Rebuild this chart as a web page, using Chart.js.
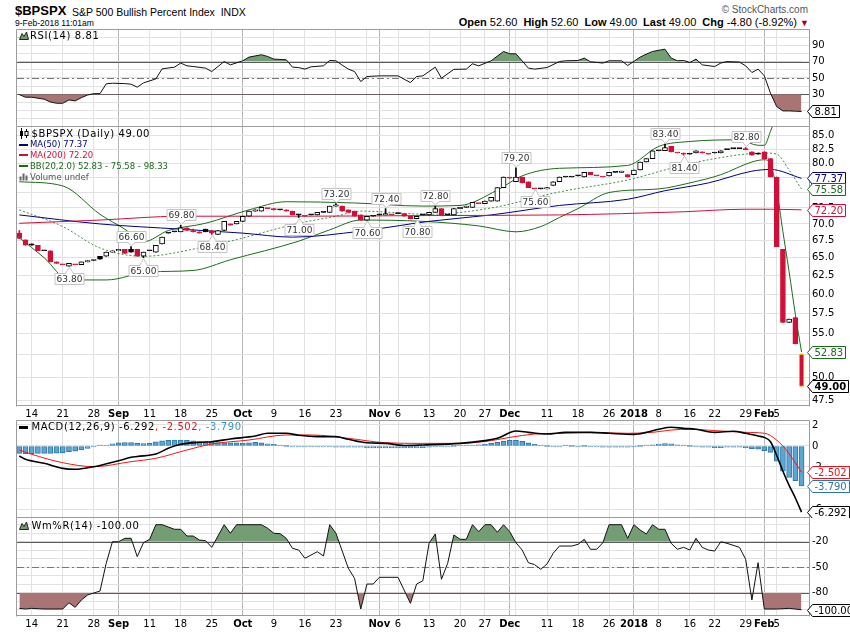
<!DOCTYPE html>
<html>
<head>
<meta charset="utf-8">
<title>$BPSPX S&amp;P 500 Bullish Percent Index</title>
<script src="https://cdn.jsdelivr.net/npm/chart.js@4.4.1/dist/chart.umd.min.js"></script>
<style>
  html, body { margin: 0; padding: 0; background: #fff; }
  body { position: relative; width: 850px; height: 633px; overflow: hidden; }
  canvas { position: absolute; left: 0; }
  .t { position: absolute; white-space: nowrap; line-height: 1; color: #000; z-index: 2; }
  .sans { font-family: "Liberation Sans", Arial, sans-serif; }
  .leg { font-family: "DejaVu Sans", sans-serif; font-size: 10px; letter-spacing: 0.6px; }
  .leg2 { font-family: "DejaVu Sans", sans-serif; font-size: 8.5px; }
  .ic { position: absolute; z-index: 2; }
  .gap { margin-left: 6px; }
</style>
</head>
<body>

<canvas id="rsi" width="850" height="97" style="top:29px"></canvas>
<canvas id="price" width="850" height="294" style="top:126px"></canvas>
<canvas id="macd" width="850" height="98" style="top:420px"></canvas>
<canvas id="wr" width="850" height="116" style="top:517px"></canvas>

<div class="t sans" style="left:15px;top:4px;font-size:13px;font-weight:bold">$BPSPX</div>
<div class="t sans" style="left:72px;top:6.5px;font-size:10.5px">S&amp;P 500 Bullish Percent Index&nbsp; INDX</div>
<div class="t sans" style="left:15px;top:19px;font-size:8.5px">9-Feb-2018 11:01am</div>
<div class="t sans" style="right:42px;top:4.5px;font-size:10px;color:#555">© StockCharts.com</div>
<div class="t sans" style="right:41px;top:16.5px;font-size:11px"><b>Open</b> 52.60<b class="gap">High</b> 52.60<b class="gap">Low</b> 49.00<b class="gap">Last</b> 49.00<b class="gap">Chg</b> -4.80 (-8.92%) <span style="color:#a00018;font-size:9px">▼</span></div>

<svg class="ic" style="left:19px;top:31px" width="10" height="9"><polygon points="0.5,8.5 3,2.5 5,5.5 7.5,1 9.5,8.5" fill="#6f9b6f" stroke="#222" stroke-width="1"/></svg>
<div class="t leg" style="left:30px;top:31px">RSI(14) 8.81</div>

<svg class="ic" style="left:19px;top:128px" width="11" height="11"><line x1="2.5" y1="0" x2="2.5" y2="11" stroke="#000"/><rect x="1" y="3" width="3" height="5" fill="#000"/><line x1="7.5" y1="1" x2="7.5" y2="10" stroke="#000"/><rect x="6" y="3.5" width="3" height="4" fill="#fff" stroke="#000" stroke-width="1"/></svg>
<div class="t leg" style="left:31.5px;top:128.5px">$BPSPX (Daily) 49.00</div>
<div class="ic" style="left:19px;top:143.5px;width:9px;height:2px;background:#000080"></div>
<div class="t leg2" style="left:30px;top:140.2px;color:#000080">MA(50) 77.37</div>
<div class="ic" style="left:19px;top:154px;width:9px;height:2px;background:#d0103a"></div>
<div class="t leg2" style="left:30px;top:150.9px;color:#d0103a">MA(200) 72.20</div>
<div class="ic" style="left:19px;top:165px;width:9px;height:2px;background:#1c6b1c"></div>
<div class="t leg2" style="left:30px;top:161.9px;color:#1c6b1c">BB(20,2.0) 52.83 - 75.58 - 98.33</div>
<svg class="ic" style="left:19px;top:172px" width="10" height="9"><rect x="0.5" y="4.5" width="2" height="4" fill="#666"/><rect x="3.5" y="1.5" width="2" height="7" fill="#666"/><rect x="6.5" y="3.5" width="2" height="5" fill="#666"/></svg>
<div class="t leg2" style="left:30px;top:172.6px;color:#555">Volume undef</div>

<div class="ic" style="left:19px;top:425.5px;width:9px;height:3px;background:#000"></div>
<div class="t leg" style="left:31.5px;top:421.9px">MACD(12,26,9) -6.292<span style="color:#e8141c">, -2.502</span><span style="color:#3399cc">, -3.790</span></div>

<svg class="ic" style="left:19px;top:521px" width="10" height="9"><polygon points="0.5,8.5 3,2.5 5,5.5 7.5,1 9.5,8.5" fill="#6f9b6f" stroke="#222" stroke-width="1"/></svg>
<div class="t leg" style="left:31.5px;top:520.9px">Wm%R(14) -100.00</div>

<script>
// ---- trading-day axis (index 0 = 10 Aug 2017, 126 = 9 Feb 2018) ----
const dayTicks  = [2, 7, 12, 16, 21, 26, 31, 36, 41, 46, 51, 56, 58, 61, 66, 71, 75, 79, 80, 85, 90, 95, 99, 103, 108, 112, 117, 120, 122];
const dayLabels = ['14', '21', '28', 'Sep', '11', '18', '25', 'Oct', '9', '16', '23', '', 'Nov', '6', '13', '20', '27', 'Dec', '', '11', '18', '26', '2018', '8', '16', '22', '29', 'Feb', '5'];
const monthTicks = [16, 36, 58, 79, 99, 120];

// ---- daily candles ----
const opens = [68.6,67.6,67.0,66.8,66.0,66.0,64.4,64.0,63.8,64.0, 64.0,64.4,64.6,65.2,65.2,65.8,66.0,66.2,66.2,66.2,
  65.2,66.0,65.8,67.0,68.6,68.8,68.8,69.4,69.0,68.8, 69.2,69.0,68.4,69.0,70.0,70.0,70.4,71.2,72.0,72.0,
  72.4,72.4,72.2,72.2,72.0,71.4,71.2,71.4,71.4,71.8, 71.8,72.8,72.8,72.2,72.0,71.4,70.6,71.2,71.4,71.4,
  71.4,71.6,71.6,71.2,70.8,71.4,71.4,71.8,72.4,71.4, 71.4,72.4,72.6,72.6,73.2,73.2,73.6,73.6,75.8,77.4,
  76.8,77.6,76.8,75.6,75.6,75.6,76.2,76.8,77.6,77.6, 77.8,77.6,78.4,77.8,77.6,77.8,78.4,78.4,78.0,78.0,
  78.8,80.2,80.8,82.2,82.2,83.0,81.8,81.8,81.6,81.8, 82.0,81.6,81.8,81.8,82.4,82.6,82.6,82.4,82.0,81.8,
  82.0,80.8,77.6,66.2,56.4,57.0,52.6];
const highs = [69.0,67.6,67.0,66.8,66.0,66.0,64.4,64.0,64.2,64.0, 64.4,64.6,64.6,65.2,65.8,66.0,66.2,66.2,66.6,66.2,
  65.8,66.0,66.8,68.0,68.6,68.8,69.8,69.4,69.2,68.8, 69.2,69.0,69.0,70.4,70.0,70.4,71.2,72.0,72.2,72.6,
  72.4,72.4,72.2,72.2,72.0,71.4,71.2,71.4,71.8,71.8, 72.8,73.2,72.8,72.2,72.0,71.4,71.2,71.2,71.4,72.4,
  71.4,71.6,71.6,71.2,71.2,71.4,71.8,72.8,72.4,71.4, 72.4,72.6,72.8,73.4,73.2,73.6,74.2,75.8,77.6,77.4,
  79.2,77.6,76.8,75.6,75.6,75.8,76.8,77.6,77.6,77.6, 77.8,78.4,78.4,77.8,77.6,78.4,78.4,78.6,78.0,78.8,
  80.2,80.8,82.2,82.2,83.4,83.0,81.8,81.8,81.6,82.2, 82.0,81.6,81.8,82.2,82.4,82.6,82.6,82.8,82.0,81.8,
  82.0,80.8,77.6,66.2,56.8,57.0,52.6];
const lows = [67.8,66.8,66.8,66.0,66.0,64.4,64.2,64.0,63.8,64.0, 64.0,64.4,64.6,64.8,65.2,65.8,66.0,65.6,65.8,65.2,
  65.0,66.0,65.8,67.0,68.6,68.8,68.8,69.0,68.8,68.6, 68.8,68.4,68.4,69.0,69.8,70.0,70.4,71.2,72.0,72.0,
  72.4,72.2,72.2,72.0,71.4,71.0,71.2,71.4,71.4,71.8, 71.8,72.8,72.0,71.8,71.2,70.6,70.6,71.2,71.4,71.4,
  71.4,71.6,71.2,70.8,70.8,71.4,71.4,71.8,71.4,71.4, 71.4,72.4,72.6,72.6,73.2,73.2,73.6,73.6,75.8,77.4,
  76.8,76.6,75.8,75.6,75.6,75.6,76.2,76.8,77.6,77.6, 77.8,77.6,78.0,77.8,77.6,77.8,78.4,78.4,77.6,78.0,
  78.8,80.2,80.8,82.2,82.2,82.0,81.8,81.4,81.6,81.8, 81.8,81.6,81.8,81.8,82.4,82.6,82.6,82.4,81.4,81.6,
  80.8,77.6,66.6,56.4,56.4,53.8,49.0];
const closes = [67.8,66.8,66.8,66.0,66.0,64.4,64.2,64.0,64.2,64.0, 64.4,64.6,64.6,64.8,65.8,66.0,66.2,65.6,65.8,65.2,
  65.8,66.0,66.8,68.0,68.6,68.8,69.4,69.0,68.8,68.6, 68.8,68.6,69.0,70.4,69.8,70.4,71.2,72.0,72.2,72.6,
  72.4,72.2,72.2,72.0,71.4,71.4,71.2,71.4,71.8,71.8, 72.8,73.0,72.0,71.8,71.2,70.6,71.2,71.2,71.4,71.6,
  71.4,71.6,71.2,70.8,71.2,71.4,71.8,72.4,71.4,71.4, 72.4,72.6,72.8,73.4,73.2,73.6,74.2,75.8,77.6,77.4,
  77.6,76.6,75.8,75.6,75.6,75.8,76.8,77.6,77.6,77.6, 77.8,78.4,78.0,77.8,77.6,78.4,78.4,78.6,77.6,78.8,
  80.2,80.8,82.2,82.2,82.8,82.0,81.8,81.6,81.6,82.2, 81.8,81.6,81.8,82.2,82.4,82.6,82.6,82.4,81.4,81.6,
  80.8,77.6,66.6,56.4,56.8,53.8,49.0];

const ma50Days    = [0, 13, 26, 36, 44, 55, 66, 76, 87, 98, 104, 111, 118, 121, 126];
const ma50Values  = [71.4, 70.0, 69.2, 68.6, 68.0, 68.9, 70.4, 71.4, 72.9, 73.9, 75.3, 76.6, 78.6, 78.9, 77.37];
const ma200Days   = [0, 13, 26, 45, 66, 87, 97, 107, 117, 121, 126];
const ma200Values = [70.1, 70.6, 71.2, 71.2, 71.3, 71.4, 71.6, 71.9, 72.3, 72.3, 72.2];
const bbMidDays   = [0, 7, 13, 20, 30, 34, 45, 51, 55, 66, 76, 87, 98, 105, 112, 120, 122, 124, 126];
const bbMidValues = [72.2, 69.6, 66.4, 65.2, 66.6, 67.4, 70.1, 71.2, 72.0, 71.5, 72.5, 75.1, 77.1, 79.1, 80.8, 81.8, 81.6, 78.8, 75.58];
const bbUpDays    = [0, 7, 13, 17, 20, 24, 30, 37, 43, 54, 65, 71, 77, 81, 87, 98, 103, 108, 116, 119, 120, 121, 122, 123, 124, 125, 126];
const bbUpValues  = [76.8, 76.1, 71.5, 69.2, 67.3, 69.0, 70.1, 72.2, 73.5, 73.3, 72.8, 72.9, 75.4, 77.8, 79.1, 79.6, 83.0, 83.9, 84.2, 83.2, 83.2, 85.8, 89.0, 92.5, 95.0, 97.0, 98.33];
const bbLowDays   = [0, 4, 8, 14, 21, 28, 34, 45, 50, 55, 65, 74, 80, 84, 87, 90, 95, 103, 108, 113, 118, 120, 121, 122, 123, 124, 125, 126];
const bbLowValues = [67.9, 65.0, 61.9, 61.9, 63.0, 63.2, 64.7, 67.4, 69.1, 70.6, 70.4, 69.7, 68.8, 69.6, 71.0, 72.4, 75.0, 75.6, 76.6, 78.0, 80.2, 80.6, 79.8, 75.4, 68.8, 63.0, 57.4, 52.83];

// high / low call-outs
const noteDays   = [8, 18, 20, 26, 31, 45, 51, 56, 59, 64, 67, 80, 83, 104, 107, 117];
const noteValues = [63.8, 66.6, 65.0, 69.8, 68.4, 71.0, 73.2, 70.6, 72.4, 70.8, 72.8, 79.2, 75.6, 83.4, 81.4, 82.8];
const noteAbove  = [false, true, false, true, false, false, true, false, true, false, true, true, false, true, false, true];

// ---- RSI(14) ----
const rsiDays = [0,1,2,4,5,6,7,8,9,10,11,12,13,14,15,17,18,19,20,22,23,25,26,27,28,30,31,32,33,34,36,37,39,40,41,43,44,45,46,47,
  49,50,51,52,53,54,55,56,58,61,63,64,65,67,68,70,72,73,74,76,78,79,80,82,83,85,87,88,90,91,92,94,95,97,98,100,101,102,104,105,
  106,107,108,109,110,112,113,114,116,117,118,119,120,121,122,123,124,125,126];
const rsiValues = [29.5,26.3,26.3,23.9,20.5,18.9,18.9,23.0,21.8,25.8,29.0,30.7,30.7,42.7,43.5,43.0,42.3,38.6,43.9,48.8,
  61.1,63.2,68.2,64.8,64.0,62.0,57.8,64.0,70.1,66.0,71.0,75.5,78.4,76.3,73.1,72.2,63.2,62.7,60.8,63.6,
  64.8,71.4,71.0,65.7,60.8,57.8,45.5,51.7,52.5,52.5,44.3,51.7,52.5,63.2,49.7,60.5,60.8,67.3,64.8,71.0,
  82.4,79.6,79.6,62.0,60.8,62.7,70.1,71.0,71.4,74.3,69.8,68.2,71.0,71.0,65.2,75.5,79.2,82.4,85.3,74.3,
  71.0,71.4,68.9,73.1,66.0,64.0,68.2,70.1,69.4,64.8,56.6,60.8,52.5,31.2,14.8,9.5,9.5,9.2,8.81];

// ---- MACD(12,26,9) ----
const macdDays = [0,1,4,7,9,12,13,16,18,19,22,24,26,29,31,34,38,40,43,45,48,51,53,56,59,62,65,71,75,77,
  80,82,85,88,92,95,99,101,103,105,107,109,112,115,117,119,120,121,122,123,124,125,126];
const macdValues = [-0.95,-1.27,-1.65,-2.13,-2.22,-1.97,-1.85,-1.40,-1.08,-1.00,-0.76,-0.22,0.16,0.35,0.41,0.67,0.95,1.21,1.21,1.02,
  0.89,0.89,0.64,0.31,0.25,0.05,0.10,0.25,0.51,0.73,1.43,1.30,1.14,1.30,1.30,1.21,1.11,1.30,1.59,1.78,
  1.68,1.59,1.30,1.40,1.21,0.95,0.82,0.41,-0.90,-2.40,-3.75,-4.95,-6.292];
const signalDays = [0,2,7,12,18,22,27,31,37,43,47,53,59,65,71,76,79,83,87,92,98,102,105,108,113,117,120,121,122,123,124,125,126];
const signalValues = [-0.38,-0.79,-1.59,-1.97,-1.49,-1.17,-0.38,0.19,0.57,1.05,1.05,0.73,0.31,0.25,0.25,0.51,0.82,1.14,1.21,1.30,
  1.21,1.30,1.52,1.59,1.43,1.30,1.21,1.00,0.55,0.00,-0.75,-1.60,-2.502];
const histValues = [-0.70,-0.72,-0.72,-0.70,-0.70,-0.70,-0.68,-0.65, -0.55,-0.50,-0.38,-0.22,-0.06,0.02,0.08,0.20,
  0.30,0.33,0.33,0.25,0.22,0.25,0.40,0.50, 0.55,0.57,0.57,0.55,0.50,0.42,0.40,0.38,
  0.33,0.30,0.30,0.30,0.28,0.30,0.35,0.30, 0.20,0.15,0.05,0.00,-0.05,-0.05,-0.05,-0.05,
  -0.05,-0.05,-0.05,-0.12,-0.12,-0.12,-0.12,-0.12, -0.18,-0.18,-0.18,-0.18,-0.18,-0.18,-0.18,-0.18,
  -0.18,-0.15,-0.12,-0.08,-0.05,-0.03,0.00,0.02, 0.05,0.08,0.10,0.15,0.25,0.35,0.45,0.55,
  0.55,0.45,0.30,0.15,0.05,0.00,-0.02,-0.05, 0.02,0.00,-0.02,0.00,-0.05,-0.08,-0.10,-0.10,
  -0.10,-0.12,-0.10,-0.08,0.00,0.05,0.12,0.18, 0.22,0.20,0.12,0.05,0.00,-0.05,-0.10,-0.12,
  -0.15,-0.15,-0.12,-0.10,-0.12,-0.15,-0.25,-0.30, -0.45,-0.60,-1.45,-2.40,-3.00,-3.30,-3.79];

// ---- Williams %R(14) ----
const wrDays = [0,1,2,4,7,8,9,10,11,13,14,15,16,17,18,19,20,21,22,23,25,26,27,28,29,30,31,33,34,35,39,40,41,42,43,44,45,46,48,49,
  50,51,53,54,55,56,57,58,61,63,64,65,66,67,68,69,70,71,72,73,74,75,76,77,78,79,80,81,82,83,84,85,86,87,89,90,91,92,93,94,
  95,97,98,99,100,101,102,103,104,105,106,107,108,109,110,111,112,113,114,116,117,118,119,120,122,124,126];
const wrValues = [-98.4,-99.2,-98.4,-99.2,-99.2,-91.8,-97.2,-88.6,-82.7,-78.0,-45.4,-20.0,-20.0,-16.0,-16.0,-37.6,-21.2,-17.2,0,0,
  -5.4,-5.4,-13.3,-13.3,-18.0,-18.8,-26.6,0,-10.1,0,0,-4.2,-10.1,-10.5,-16.0,-27.8,-29.8,-39.5,-31.8,-36.8,
  0,-10.1,-51.3,-63.1,-99.2,-69.8,-69.8,-61.9,-61.9,-92.5,-69.8,-65.9,-21.9,-10.9,-64.2,-45.4,-12.1,-17.2,-17.2,0,
  -8.2,0,0,-8.9,0,-8.2,-21.2,-29.8,-44.7,-47.0,-52.5,-46.2,-33.6,-25.1,-25.1,-23.1,-17.2,-28.9,-28.9,-21.2,
  0,0,-16.0,0,-6.2,-10.9,0,-5.4,-5.4,-21.9,-28.9,-26.6,-29.8,-16.0,-26.6,-29.8,-31.0,-20.0,-21.9,-26.6,
  -40.7,-88.6,-44.7,-99.2,-99.2,-98.4,-100];

const priceTicks = [47.5, 50, 52.5, 55, 57.5, 60, 62.5, 65, 67.5, 70, 72.5, 75, 77.5, 80, 82.5, 85];

// ---------------------------------------------------------------
const FONT = '"DejaVu Sans", sans-serif';
const RED = '#d0103a', NAVY = '#000080', GREEN = '#1c6b1c';
const last = a => a[a.length - 1];
const pts = (xs, ys) => xs.map((d, k) => ({ x: d, y: ys[k] }));
const days = closes.map((c, i) => i);

function xAxis(showLabels, h) {
  return {
    type: 'linear', min: -0.37, max: 127.2, offset: false, bounds: 'data',
    afterBuildTicks: s => { s.ticks = dayTicks.map(v => ({ value: v })); },
    afterFit: s => { s.height = h; s.paddingLeft = 0; s.paddingRight = 0; },
    grid: { offset: false, drawTicks: false,
      color: c => monthTicks.includes(c.tick && c.tick.value) ? '#b6b6b6' : '#e2e2e2' },
    border: { display: false },
    ticks: {
      display: showLabels, autoSkip: false, maxRotation: 0, minRotation: 0, padding: 2, color: '#000',
      font: c => ({ family: FONT, size: 10, weight: monthTicks.includes(c.tick && c.tick.value) ? 'bold' : 'normal' }),
      callback: v => dayLabels[dayTicks.indexOf(v)]
    }
  };
}

function yAxis(type, min, max, ticks, label) {
  return {
    type, min, max, position: 'right', bounds: 'data',
    afterBuildTicks: s => { s.ticks = ticks.map(v => ({ value: v })); },
    afterFit: s => { s.width = 41; s.paddingTop = 0; s.paddingBottom = 0; },
    grid: { drawTicks: false, color: '#e2e2e2' },
    border: { display: false },
    ticks: { padding: 3, color: '#000', autoSkip: false, font: { family: FONT, size: 10 }, callback: label }
  };
}

function panel(cfg) {
  return {
    id: 'panel',
    beforeDatasetsDraw(chart) {
      const { ctx, chartArea: a } = chart, y = chart.scales.y;
      ctx.save();
      (cfg.refs || []).forEach(r => {
        const py = Math.round(y.getPixelForValue(r.v)) + 0.5;
        ctx.strokeStyle = r.color; ctx.lineWidth = 1; ctx.setLineDash(r.dash || []);
        ctx.beginPath(); ctx.moveTo(a.left, py); ctx.lineTo(a.right, py); ctx.stroke();
      });
      ctx.restore();
    },
    afterDraw(chart) {
      const { ctx, chartArea: a } = chart, y = chart.scales.y;
      ctx.save();
      ctx.strokeStyle = '#9c9c9c'; ctx.lineWidth = 1;
      const L = Math.round(a.left) - 0.5, R = Math.round(a.right) + 0.5;
      const T = Math.round(a.top) + 0.5, B = Math.round(a.bottom) - 0.5;
      ctx.beginPath();
      ctx.moveTo(L, T); ctx.lineTo(R, T);
      ctx.moveTo(L, T); ctx.lineTo(L, B + 1);
      ctx.moveTo(R, T); ctx.lineTo(R, B + 1);
      if (cfg.bottom) { ctx.moveTo(L, B); ctx.lineTo(R, B); }
      ctx.stroke();
      (cfg.boxes || []).forEach(b => {
        const py = Math.round(y.getPixelForValue(b.v)) + 0.5;
        ctx.font = (b.bold ? 'bold ' : '') + '10px ' + FONT;
        const w = Math.ceil(ctx.measureText(b.text).width) + 4, h = 12, x0 = Math.round(a.right) + 3.5;
        ctx.beginPath();
        ctx.moveTo(x0 - 5, py); ctx.lineTo(x0, py - h / 2); ctx.lineTo(x0 + w, py - h / 2);
        ctx.lineTo(x0 + w, py + h / 2); ctx.lineTo(x0, py + h / 2); ctx.closePath();
        ctx.fillStyle = '#fff'; ctx.fill();
        ctx.strokeStyle = b.color; ctx.stroke();
        ctx.fillStyle = b.color; ctx.textAlign = 'left'; ctx.textBaseline = 'middle';
        ctx.fillText(b.text, x0 + 2, py + 0.5);
      });
      ctx.restore();
    }
  };
}

const notes = {
  id: 'notes',
  afterDatasetsDraw(chart) {
    const { ctx } = chart, { x, y } = chart.scales;
    ctx.save();
    ctx.font = '9px ' + FONT;
    noteDays.forEach((d, k) => {
      const px = Math.round(x.getPixelForValue(d)) + 0.5;
      const py = y.getPixelForValue(noteValues[k]);
      const txt = noteValues[k].toFixed(2);
      const w = Math.ceil(ctx.measureText(txt).width) + 3, h = 11;
      const top = noteAbove[k] ? Math.round(py - 5 - h) + 0.5 : Math.round(py + 7) + 0.5;
      const edge = noteAbove[k] ? top + h : top;
      const tip = noteAbove[k] ? py - 1 : py + 1;
      ctx.fillStyle = '#fff'; ctx.strokeStyle = '#c4c4c4'; ctx.lineWidth = 1;
      ctx.beginPath(); ctx.rect(Math.round(px - w / 2), top, w, h); ctx.fill(); ctx.stroke();
      ctx.beginPath(); ctx.moveTo(px - 4, edge); ctx.lineTo(px, tip); ctx.lineTo(px + 4, edge);
      ctx.fill(); ctx.stroke();
      ctx.fillStyle = '#fff'; ctx.fillRect(px - 3, edge - 0.5, 6, 1);
      ctx.fillStyle = '#333'; ctx.textAlign = 'center'; ctx.textBaseline = 'middle';
      ctx.fillText(txt, px, top + h / 2 + 0.5);
    });
    ctx.restore();
  }
};

const common = { responsive: false, animation: false, events: [], layout: { padding: { left: 17, right: 0, top: 0, bottom: 0 } },
  plugins: { legend: { display: false }, tooltip: { enabled: false } } };

function lineSet(xs, ys, color, extra) {
  return Object.assign({ type: 'line', data: pts(xs, ys), borderColor: color, borderWidth: 1,
    pointRadius: 0, fill: false, cubicInterpolationMode: 'monotone', order: 3 }, extra || {});
}

// ---- RSI panel ----
new Chart(document.getElementById('rsi'), {
  type: 'line',
  data: { datasets: [
    { data: pts(rsiDays, rsiValues), borderColor: 'rgba(0,0,0,0)', borderWidth: 0, pointRadius: 0, order: 2,
      fill: { target: { value: 30 }, above: 'rgba(0,0,0,0)', below: '#a97574' } },
    { data: pts(rsiDays, rsiValues), borderColor: '#111', borderWidth: 1, pointRadius: 0, order: 1,
      fill: { target: { value: 70 }, above: '#739d73', below: 'rgba(0,0,0,0)' } }
  ] },
  options: Object.assign({}, common, { scales: {
    x: xAxis(false, 0),
    y: yAxis('linear', -9, 110, [0, 10, 20, 30, 40, 50, 60, 70, 80, 90, 100], v => [30, 50, 70, 90].includes(v) ? String(v) : '')
  } }),
  plugins: [panel({ refs: [{ v: 70, color: '#5a5a5a' }, { v: 30, color: '#5a5a5a' }, { v: 50, color: '#777', dash: [7, 3, 2, 3] }],
    boxes: [{ v: last(rsiValues), text: last(rsiValues).toFixed(2), color: '#000' }] })]
});

// ---- price panel ----
const candleColor = i => (i > 0 && closes[i] >= closes[i - 1]) ? '#000' : RED;
new Chart(document.getElementById('price'), {
  type: 'bar',
  data: { datasets: [
    lineSet(ma200Days, ma200Values, RED),
    lineSet(ma50Days, ma50Values, NAVY),
    lineSet(bbUpDays, bbUpValues, GREEN),
    lineSet(bbLowDays, bbLowValues, GREEN),
    lineSet(bbMidDays, bbMidValues, '#3f8f3f', { borderDash: [2, 2] }),
    { type: 'bar', data: days.map(i => ({ x: i, y: [lows[i], highs[i]] })), backgroundColor: days.map(candleColor),
      barThickness: 1, grouped: false, order: 2 },
    { type: 'bar', data: days.map(i => ({ x: i, y: [opens[i], closes[i]] })),
      backgroundColor: days.map(i => closes[i] > opens[i] ? '#fff' : candleColor(i)),
      borderColor: days.map(i => i === days.length - 1 ? '#f2e400' : candleColor(i)),
      borderWidth: 1, borderSkipped: false, barThickness: 5, minBarLength: 1, grouped: false, order: 1 }
  ] },
  options: Object.assign({}, common, { scales: {
    x: xAxis(true, 14),
    y: yAxis('logarithmic', 46.93, 86.8, priceTicks, v => v.toFixed(1))
  } }),
  plugins: [notes, panel({ bottom: true, boxes: [
    { v: last(ma200Values), text: last(ma200Values).toFixed(2), color: RED },
    { v: last(ma50Values), text: last(ma50Values).toFixed(2), color: NAVY },
    { v: last(bbMidValues), text: last(bbMidValues).toFixed(2), color: GREEN },
    { v: last(bbLowValues), text: last(bbLowValues).toFixed(2), color: GREEN },
    { v: last(closes), text: last(closes).toFixed(2), color: '#000', bold: true }
  ] })]
});

// ---- MACD panel ----
new Chart(document.getElementById('macd'), {
  type: 'bar',
  data: { datasets: [
    { type: 'bar', data: days.map(i => ({ x: i, y: histValues[i] })), backgroundColor: '#5ba6d2', borderColor: '#2d77a6',
      borderWidth: 1, borderSkipped: false, barThickness: 5, minBarLength: 1, grouped: false, order: 3 },
    lineSet(signalDays, signalValues, '#f01818', { order: 2 }),
    lineSet(macdDays, macdValues, '#000', { borderWidth: 1.6, order: 1 })
  ] },
  options: Object.assign({}, common, { scales: {
    x: xAxis(false, 0),
    y: yAxis('linear', -6.857, 2.476, [-6, -4, -2, 0, 2], v => String(v))
  } }),
  plugins: [panel({ boxes: [
    { v: last(signalValues), text: last(signalValues).toFixed(3), color: '#e8141c' },
    { v: last(histValues), text: last(histValues).toFixed(3), color: '#2d77a6' },
    { v: last(macdValues), text: last(macdValues).toFixed(3), color: '#000' }
  ] })]
});

// ---- Williams %R panel ----
new Chart(document.getElementById('wr'), {
  type: 'line',
  data: { datasets: [
    { data: pts(wrDays, wrValues), borderColor: 'rgba(0,0,0,0)', borderWidth: 0, pointRadius: 0, order: 2,
      fill: { target: { value: -80 }, above: 'rgba(0,0,0,0)', below: '#a97574' } },
    { data: pts(wrDays, wrValues), borderColor: '#111', borderWidth: 1, pointRadius: 0, order: 1,
      fill: { target: { value: -20 }, above: '#739d73', below: 'rgba(0,0,0,0)' } }
  ] },
  options: Object.assign({}, common, { scales: {
    x: xAxis(true, 17),
    y: yAxis('linear', -107.4, 9.06, [0, -10, -20, -30, -40, -50, -60, -70, -80, -90, -100], v => [-20, -50, -80].includes(v) ? String(v) : '')
  } }),
  plugins: [panel({ bottom: true, refs: [{ v: -20, color: '#5a5a5a' }, { v: -80, color: '#5a5a5a' }, { v: -50, color: '#777', dash: [7, 3, 2, 3] }],
    boxes: [{ v: last(wrValues), text: last(wrValues).toFixed(2), color: '#000' }] })]
});
</script>
</body>
</html>
